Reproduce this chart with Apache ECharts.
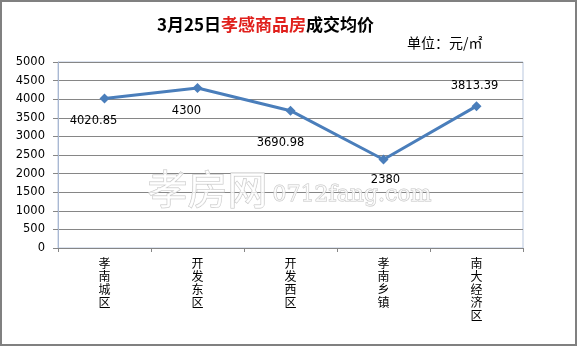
<!DOCTYPE html>
<html>
	<head>
		<meta charset="utf-8" />
		<title>3月25日孝感商品房成交均价</title>
		<script src="https://cdn.jsdelivr.net/npm/echarts@6/dist/echarts.min.js"></script>
		<style>
			html, body { margin: 0; padding: 0; background: #fff; }
			#main { width: 578px; height: 347px; }
		</style>
	</head>
	<body>
		<div id="main"></div>
	<script>
	// 数据
	var areas = ['孝南城区', '开发东区', '开发西区', '孝南乡镇', '南大经济区'];
	var prices = [4020.85, 4300, 3690.98, 2380, 3813.39];
	var yTicks = [0, 500, 1000, 1500, 2000, 2500, 3000, 3500, 4000, 4500, 5000];

	// 数据标签的位置（偏移量）
	var labelOffsets = [[-11, 23], [-11, 23], [-10, 32], [2, 21], [-2, -20]];

	var chart = echarts.init(document.getElementById('main'));

	var seriesData = prices.map(function (v, i) {
		return {
			value: v,
			label: { offset: labelOffsets[i] }
		};
	});

	var option = {
		animation: false,
		backgroundColor: '#fff',
		title: {
			text: '{a|3月25日}{b|孝感商品房}{a|成交均价}',
			left: 152,
			top: 11,
			textStyle: {
				rich: {
					a: { fontFamily: 'Noto Sans CJK SC', fontWeight: 'bold', fontSize: 17, color: '#000' },
					b: { fontFamily: 'Noto Sans CJK SC', fontWeight: 'bold', fontSize: 17, color: '#e0201c' }
				}
			}
		},
		grid: {
			left: 58, right: 55, top: 62, bottom: 99,
			show: true,
			borderColor: '#b9c7de',
			borderWidth: 1
		},
		xAxis: {
			type: 'category',
			data: areas,
			boundaryGap: true,
			axisLine: { lineStyle: { color: '#868686', width: 1 } },
			axisTick: { show: true, length: 4, lineStyle: { color: '#868686' } },
			axisLabel: {
				margin: 9,
				fontFamily: 'Noto Sans CJK SC',
				fontSize: 12,
				lineHeight: 13,
				color: '#000',
				formatter: function (v) { return v.split('').join('\n'); }
			}
		},
		yAxis: {
			type: 'value',
			min: yTicks[0],
			max: yTicks[yTicks.length - 1],
			interval: yTicks[1] - yTicks[0],
			axisLine: { show: true, lineStyle: { color: '#a9b8d2', width: 1 } },
			axisTick: { show: true, length: 5, lineStyle: { color: '#868686' } },
			axisLabel: {
				margin: 13,
				fontFamily: 'DejaVu Sans',
				fontSize: 11.5,
				color: '#000',
				formatter: function (v) { return String(v); }
			},
			splitLine: { lineStyle: { color: '#868686', width: 1 } }
		},
		series: [{
			type: 'line',
			data: seriesData,
			symbol: 'diamond',
			symbolSize: 10,
			itemStyle: { color: '#4a7ebb' },
			lineStyle: { color: '#4a7ebb', width: 3 },
			label: {
				show: true,
				position: 'inside',
				fontFamily: 'DejaVu Sans',
				fontSize: 11.5,
				color: '#000'
			},
			z: 5
		}],
		graphic: [
			{
				type: 'rect',
				shape: { x: 1, y: 1, width: 575, height: 344 },
				style: { fill: null, stroke: '#808080', lineWidth: 2 },
				silent: true
			},
			{
				type: 'text',
				left: 407, top: 36,
				style: { text: '单位：元/㎡', fontFamily: 'Noto Sans CJK SC', fontSize: 14, fill: '#000' }
			},
			// 水印
			{
				type: 'text',
				left: 147, top: 168,
				z: 3,
				style: {
					text: '孝房网',
					fontFamily: 'Noto Sans CJK SC',
					fontSize: 40,
					fill: 'rgba(255,255,255,0.75)',
					stroke: '#c4c4c4',
					lineWidth: 1
				}
			},
			{
				type: 'text',
				left: 272, top: 184,
				z: 3,
				style: {
					text: '0712fang.com',
					fontFamily: 'DejaVu Serif',
					fontSize: 22,
					fill: 'rgba(255,255,255,0.75)',
					stroke: '#c4c4c4',
					lineWidth: 1
				}
			}
		]
	};

	chart.setOption(option);
	</script>
	</body>
</html>
